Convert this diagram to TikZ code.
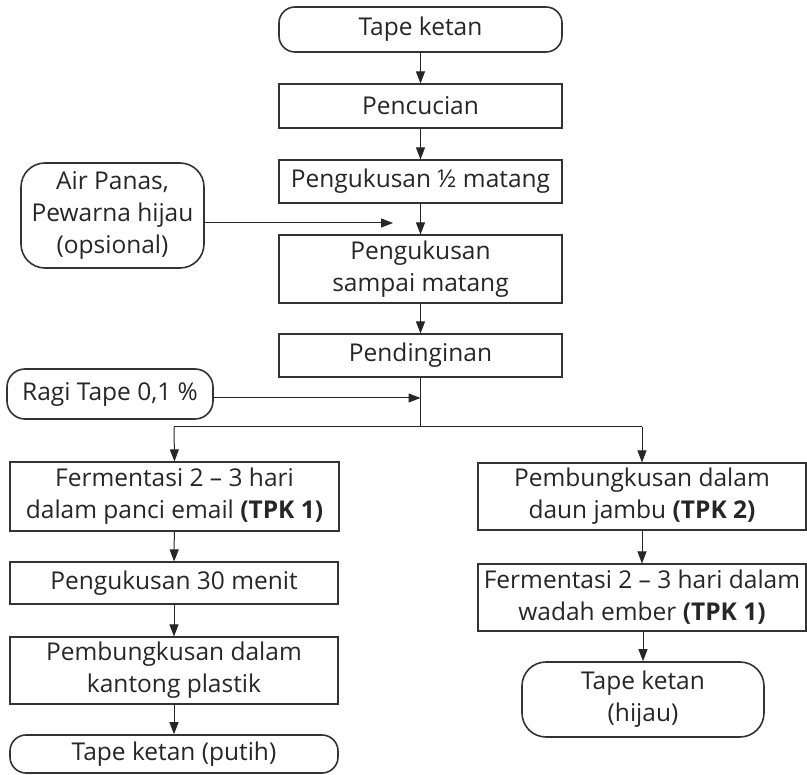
\documentclass[tikz,border=0pt]{standalone}
\usepackage{fontspec}
\setmainfont{Open Sans}
\usetikzlibrary{arrows.meta}
\tikzset{
  box/.style={draw=black!80, line width=1.1pt, rectangle, align=center, inner sep=1pt,
    font=\fontsize{24.5}{32}\selectfont, text=black!85},
  term/.style={box, rounded corners=#1, line width=1.6pt},
  term/.default=16pt,
  flow/.style={draw=black!85, line width=1pt, -{Triangle[length=12pt,width=9pt]}},
  plain/.style={draw=black!85, line width=1pt}
}
\begin{document}
\begin{tikzpicture}[x=1pt,y=-1pt]
\useasboundingbox (0,0) rectangle (807,775);
\node[term=16pt, minimum width=283pt, minimum height=45pt] (start) at (420.5,29.5) {Tape ketan};
\node[box, minimum width=283pt, minimum height=44pt] (wash) at (420.5,106) {Pencucian};
\node[box, minimum width=283pt, minimum height=43pt] (steam1) at (420.5,181.5) {Pengukusan ½ matang};
\node[box, minimum width=283pt, minimum height=68pt] (steam2) at (420.5,269) {Pengukusan\\sampai matang};
\node[box, minimum width=283pt, minimum height=43pt] (cool) at (420.5,355.5) {Pendinginan};
\node[term=24pt, minimum width=183pt, minimum height=105pt] (air) at (112.5,215.5) {Air Panas,\\Pewarna hijau\\(opsional)};
\node[term=18pt, minimum width=206pt, minimum height=50pt] (ragi) at (110,394) {Ragi Tape 0,1 \%};
\node[box, minimum width=329pt, minimum height=69pt] (ferm1) at (174.5,496.5) {Fermentasi 2 – 3 hari\\dalam panci email \textbf{(TPK 1)}};
\node[box, minimum width=328pt, minimum height=42pt] (steam30) at (174,583) {Pengukusan 30 menit};
\node[box, minimum width=328pt, minimum height=67pt] (pack1) at (174,670.5) {Pembungkusan dalam\\kantong plastik};
\node[term=16pt, minimum width=328pt, minimum height=38pt] (putih) at (174,754) {Tape ketan (putih)};
\node[box, minimum width=328pt, minimum height=67pt] (pack2) at (642,496.5) {Pembungkusan dalam\\daun jambu \textbf{(TPK 2)}};
\node[box, minimum width=328pt, minimum height=67pt] (ferm2) at (642,597.5) {Fermentasi 2 – 3 hari dalam\\wadah ember \textbf{(TPK 1)}};
\node[term=24pt, minimum width=242pt, minimum height=75pt] (hijau) at (643,699.5) {Tape ketan\\(hijau)};
\coordinate (a1) at (393,223);
\coordinate (r1) at (420.5,398);
\coordinate (split) at (420.5,427);
\coordinate (sl) at (174,427);
\coordinate (sr) at (642,427);
\draw[flow] (start) -- (wash);
\draw[flow] (wash) -- (steam1);
\draw[flow] (steam1) -- (steam2);
\draw[flow] (steam2) -- (cool);
\draw[flow] (air.east |- a1) -- (a1);
\draw[flow] (ragi.east |- r1) -- (r1);
\draw[plain] (cool.south) -- (split);
\draw[plain] (sl) -- (sr);
\draw[flow] (sl) -- (ferm1.north);
\draw[flow] (sr) -- (pack2.north);
\draw[flow] (ferm1) -- (steam30);
\draw[flow] (steam30) -- (pack1);
\draw[flow] (pack1) -- (putih);
\draw[flow] (pack2) -- (ferm2);
\draw[flow] (ferm2.south -| hijau.north) -- (hijau.north);
\end{tikzpicture}
\end{document}
